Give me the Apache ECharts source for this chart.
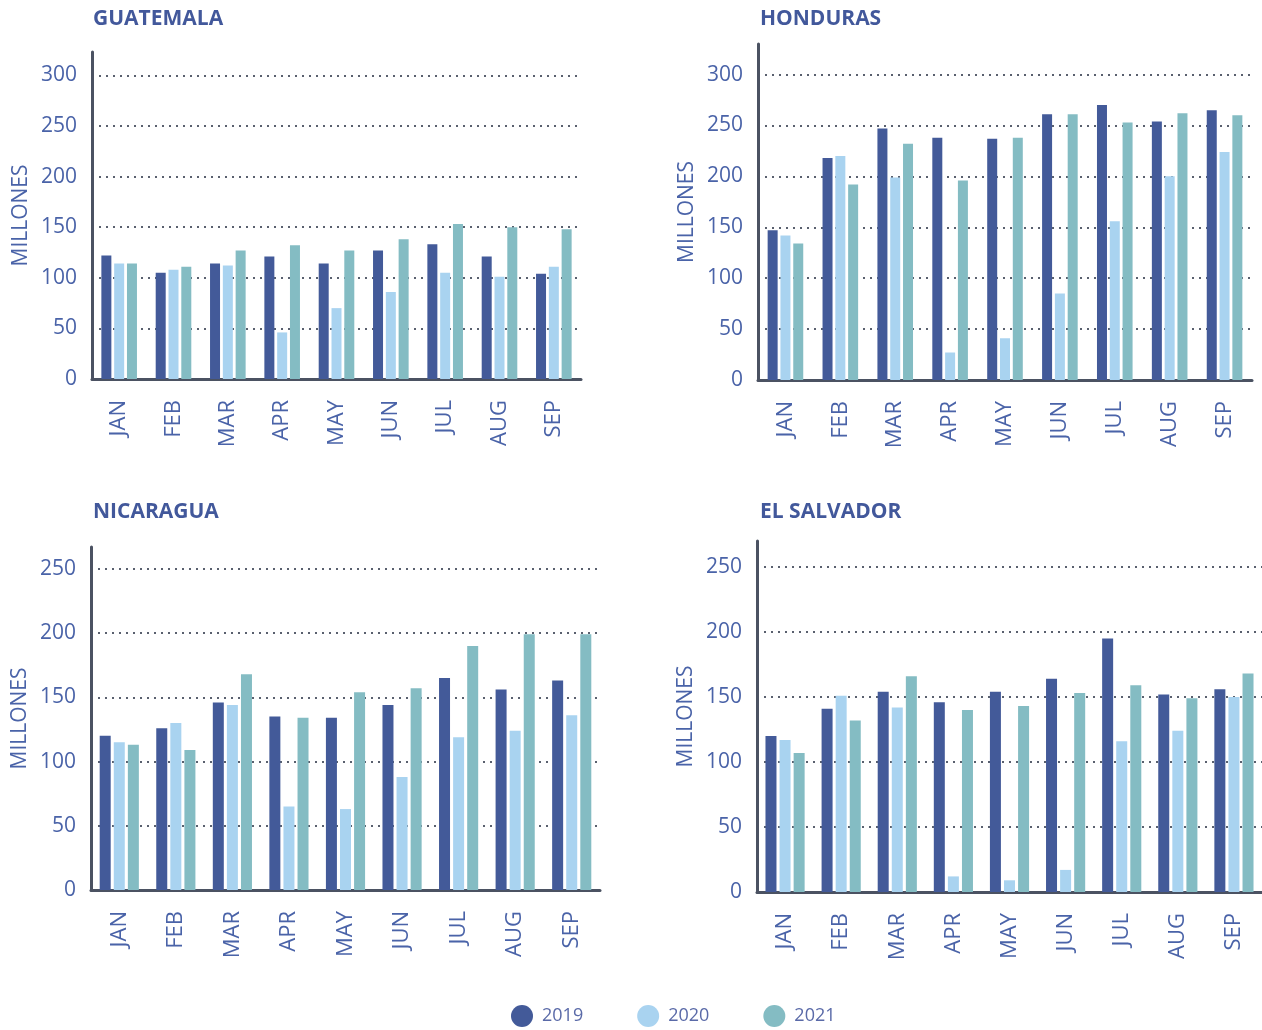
<!DOCTYPE html>
<html>
<head>
<meta charset="utf-8">
<title>Millones por mes 2019–2021</title>
<script src="https://cdn.jsdelivr.net/npm/echarts@6/dist/echarts.min.js"></script>
<style>
  html, body { margin: 0; padding: 0; background: #ffffff; }
  #chart { width: 1262px; height: 1030px; }
</style>
</head>
<body>
<div id="chart"></div>
<script>
// Categories and series
const months = ['JAN', 'FEB', 'MAR', 'APR', 'MAY', 'JUN', 'JUL', 'AUG', 'SEP'];
const years = ['2019', '2020', '2021'];
const countries = ['GUATEMALA', 'HONDURAS', 'NICARAGUA', 'EL SALVADOR'];

// Monthly values (millones)
const guatemala2019 = [122, 105, 114, 121, 114, 127, 133, 121, 104];
const guatemala2020 = [114, 108, 112, 46, 70, 86, 105, 101, 111];
const guatemala2021 = [114, 111, 127, 132, 127, 138, 153, 150, 148];

const honduras2019 = [147, 218, 247, 238, 237, 261, 270, 254, 265];
const honduras2020 = [142, 220, 199, 27, 41, 85, 156, 200, 224];
const honduras2021 = [134, 192, 232, 196, 238, 261, 253, 262, 260];

const nicaragua2019 = [120, 126, 146, 135, 134, 144, 165, 156, 163];
const nicaragua2020 = [115, 130, 144, 65, 63, 88, 119, 124, 136];
const nicaragua2021 = [113, 109, 168, 134, 154, 157, 190, 199, 199];

const elsalvador2019 = [120, 141, 154, 146, 154, 164, 195, 152, 156];
const elsalvador2020 = [117, 151, 142, 12, 9, 17, 116, 124, 150];
const elsalvador2021 = [107, 132, 166, 140, 143, 153, 159, 149, 168];

// Y tick labels shown on each panel
const yTicksTop = [0, 50, 100, 150, 200, 250, 300];
const yTicksBottom = [0, 50, 100, 150, 200, 250];

const seriesByCountry = [
  [guatemala2019, guatemala2020, guatemala2021],
  [honduras2019, honduras2020, honduras2021],
  [nicaragua2019, nicaragua2020, nicaragua2021],
  [elsalvador2019, elsalvador2020, elsalvador2021]
];

const colors = ['#435a99', '#a9d3f0', '#84bcc3'];
const textBlue = '#4a63a8';
const axisDark = '#4b5262';
const FONT = '"Open Sans", "Noto Sans", sans-serif';

// Panel layout (pixels)
const panels = [
  { left: 92,  top: 52,  width: 489, height: 327, max: 323, ticks: yTicksTop,    barWidth: 10, titleX: 88,  titleY: 4 },
  { left: 758, top: 44,  width: 494, height: 336, max: 330, ticks: yTicksTop,    barWidth: 10, titleX: 755, titleY: 4 },
  { left: 91,  top: 547, width: 509, height: 343, max: 267, ticks: yTicksBottom, barWidth: 11, titleX: 88,  titleY: 497 },
  { left: 757, top: 541, width: 505, height: 351, max: 270, ticks: yTicksBottom, barWidth: 11, titleX: 755, titleY: 497 }
];

const grids = [], xAxes = [], yAxes = [], series = [], titles = [];

panels.forEach((p, i) => {
  titles.push({
    text: countries[i],
    left: p.titleX,
    top: p.titleY,
    textStyle: { fontFamily: FONT, fontSize: 21, fontWeight: 'bold', color: '#42589b' }
  });
  grids.push({ left: p.left, top: p.top, width: p.width, height: p.height, containLabel: false });
  xAxes.push({
    type: 'category',
    gridIndex: i,
    data: months,
    axisLine: { show: true, lineStyle: { color: axisDark, width: 3 } },
    axisTick: { show: false },
    axisLabel: {
      rotate: 90,
      margin: 21,
      fontFamily: FONT,
      fontSize: 22,
      color: textBlue
    },
    splitLine: { show: false }
  });
  const tickSet = p.ticks;
  yAxes.push({
    type: 'value',
    gridIndex: i,
    min: 0,
    max: p.max,
    interval: 50,
    name: 'MILLONES',
    nameLocation: 'middle',
    nameGap: 60,
    nameTextStyle: { fontFamily: FONT, fontSize: 21, color: textBlue },
    axisLine: { show: true, lineStyle: { color: axisDark, width: 3 } },
    axisTick: { show: false },
    axisLabel: {
      margin: 15,
      fontFamily: FONT,
      fontSize: 21,
      color: textBlue,
      formatter: v => (tickSet.indexOf(v) >= 0 ? String(v) : '')
    },
    splitLine: {
      show: true,
      showMinLine: false,
      showMaxLine: false,
      lineStyle: { color: '#59606e', width: 2, type: [2, 5] }
    }
  });
  seriesByCountry[i].forEach((vals, k) => {
    series.push({
      type: 'bar',
      name: years[k],
      xAxisIndex: i,
      yAxisIndex: i,
      data: vals,
      barWidth: p.barWidth,
      barGap: '28%',
      itemStyle: { color: colors[k] },
      emphasis: { disabled: true }
    });
  });
});

const chart = echarts.init(document.getElementById('chart'), null, { renderer: 'canvas' });
chart.setOption({
  animation: false,
  color: colors,
  title: titles,
  grid: grids,
  xAxis: xAxes,
  yAxis: yAxes,
  legend: {
    data: years,
    top: 1000,
    left: 506,
    icon: 'circle',
    itemWidth: 22,
    itemHeight: 22,
    itemGap: 54,
    textStyle: { fontFamily: FONT, fontSize: 18, color: '#5a6aa8', padding: [0, 0, 0, 4] }
  },
  series: series
});
</script>
</body>
</html>
